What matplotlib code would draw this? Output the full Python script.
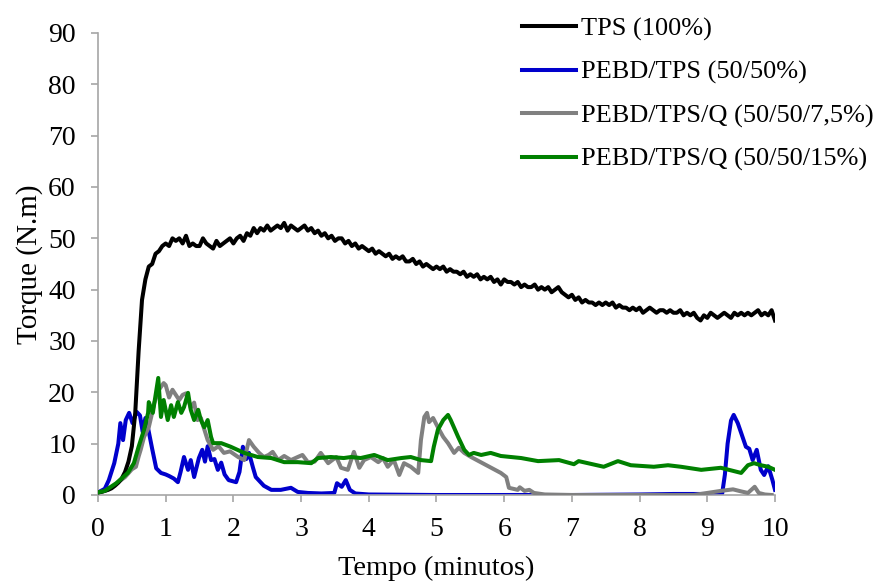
import matplotlib

matplotlib.use("Agg")
import matplotlib.pyplot as plt
import numpy as np

# ---- data ----
tps_t = np.round(np.arange(0, 10.001, 0.05), 2)
tps_v = [
    0.5, 0.6, 0.8, 1.0, 1.3, 1.8, 2.4, 3.2, 4.5, 6.5,
    9.5, 16, 28, 38, 42, 44.5, 45, 47, 47.5, 48.5,
    49, 48.5, 50, 49.5, 50, 49, 50.5, 48.5, 49, 48.5,
    48.5, 50, 49, 48.5, 48, 49.5, 48.5, 49, 49.5, 50,
    49, 50, 50.5, 49.5, 51, 50.5, 52, 51, 52, 51.5,
    52.5, 51.5, 52, 52.5, 52, 53, 51.5, 52.5, 52, 51.5,
    52, 52.5, 51.5, 52, 51, 51.5, 50.5, 51, 50, 50.5,
    49.5, 50, 50, 49, 49.5, 48.5, 49, 48, 48.5, 48,
    47.5, 48, 47, 47.5, 47, 46.5, 47, 46, 46.5, 46,
    46.5, 45.5, 45.5, 46, 45, 45.5, 44.5, 45, 44.5, 44,
    44.5, 44, 44.5, 43.5, 44, 43.5, 43.5, 43, 43.5, 42.5,
    43, 42.5, 43, 42, 42.5, 42, 42.5, 41.5, 42, 41,
    42, 41.5, 41.5, 41, 41.5, 40.5, 41, 40.5, 40.5, 41,
    40, 40.5, 40, 40.5, 39.5, 40, 40.5, 39.5, 39, 38.5,
    39, 38, 38.5, 37.5, 38, 37.5, 37.5, 37, 37.5, 37,
    37.5, 37, 37.5, 36.5, 37, 36.5, 36.5, 36, 36.5, 36,
    36.5, 35.5, 36, 36.5, 36, 35.5, 36, 36, 35.5, 36,
    35.5, 35.5, 36, 35, 35.5, 35, 35.5, 34.5, 34, 35,
    34.5, 35.5, 35, 34.5, 35, 35.5, 35, 34.5, 35.5, 35,
    35.5, 35, 35.5, 35, 35.5, 36, 35, 35.5, 35, 36,
    34,
]

blend_t = [
    0, 0.1, 0.16, 0.24, 0.3, 0.33, 0.37, 0.41, 0.46, 0.51, 0.57, 0.62, 0.66,
    0.7, 0.74, 0.8, 0.86, 0.93, 1.0, 1.05, 1.12, 1.18, 1.22, 1.27, 1.33, 1.37,
    1.42, 1.49, 1.54, 1.58, 1.62, 1.67, 1.72, 1.77, 1.82, 1.87, 1.93, 2.04,
    2.09, 2.14, 2.19, 2.23, 2.29, 2.33, 2.45, 2.56, 2.7, 2.85, 2.95, 3.1, 3.3,
    3.49, 3.53, 3.6, 3.66, 3.72, 3.8, 4.0, 5.0, 6.0, 7.0, 8.0, 8.5, 9.0, 9.22,
    9.26, 9.3, 9.35, 9.39, 9.45, 9.5, 9.57, 9.62, 9.67, 9.73, 9.79, 9.84, 9.9,
    9.96, 10.0,
]
blend_v = [
    0.5, 1.2, 2.9, 6.2, 10, 14, 10.7, 14.6, 16, 14, 16.2, 15.5, 12.3,
    15, 13, 9, 5.2, 4.3, 4, 3.7, 3.2, 2.5, 4.5, 7.4, 4.9, 6.8,
    3.5, 7.2, 8.8, 6.5, 9.5, 6.8, 7, 4.9, 6.3, 4, 2.9, 2.5,
    4.5, 9.4, 7, 8.2, 5.3, 3.5, 1.8, 1.0, 1.0, 1.4, 0.6, 0.4, 0.3,
    0.4, 2.3, 1.6, 2.9, 1.0, 0.3, 0.1, 0.0, 0.0, 0.0, 0.1, 0.2, 0.2, 0.3,
    4, 10, 14.5, 15.6, 14, 12.1, 9.4, 9.0, 6.8, 8.8, 4.9, 3.9, 5.6,
    3, 1.0,
]

q75_t = [
    0, 0.1, 0.2, 0.3, 0.4, 0.5, 0.56, 0.6, 0.63, 0.68, 0.75, 0.8, 0.83, 0.9,
    0.97, 1.0, 1.05, 1.1, 1.15, 1.2, 1.25, 1.3, 1.37, 1.42, 1.47, 1.52, 1.56,
    1.62, 1.7, 1.78, 1.86, 1.95, 2.07, 2.16, 2.23, 2.3, 2.38, 2.45, 2.52,
    2.58, 2.66, 2.75, 2.85, 2.95, 3.02, 3.1, 3.2, 3.29, 3.4, 3.52, 3.59,
    3.69, 3.78, 3.86, 3.93, 4.03, 4.14, 4.21, 4.28, 4.37, 4.45, 4.52, 4.62,
    4.73, 4.77, 4.82, 4.86, 4.89, 4.95, 5.02, 5.1, 5.17, 5.26, 5.33, 5.41,
    5.51, 5.95, 6.03, 6.07, 6.2, 6.23, 6.3, 6.37, 6.44, 6.6, 7.0, 8.0, 8.8,
    9.0, 9.2, 9.38, 9.5, 9.6, 9.7, 9.76, 9.85, 9.95,
]
q75_v = [
    0.5, 0.8, 1.5, 2.5, 3.5, 5, 5.5, 7.5, 8.8, 11.3, 13.2, 16, 17.9, 20.5,
    21.8, 21.4, 19, 20.5, 19.5, 18.5, 19.5, 19.8, 17, 18, 14.6, 15, 13.2,
    10.7, 8.8, 9.5, 8.2, 8.5, 7.4, 6.8, 10.7, 9.4, 8.2, 7.4, 7.8,
    8.4, 6.8, 7.6, 6.8, 7.4, 7.8, 6.4, 6.5, 8.2, 6.2, 7.4, 5.3,
    4.9, 8.4, 5.3, 6.8, 7.4, 6.4, 7.2, 5.5, 6.8, 3.9, 6.2, 5.5,
    4.3, 10.7, 15.2, 16, 14.2, 15, 13.2, 11.3, 10.1, 8.2, 9.2, 8.2,
    7.4, 4.3, 3.5, 1.4, 1.0, 1.5, 0.8, 1.0, 0.4, 0.1, 0.0, 0.0, 0.0,
    0.4, 0.8, 1.1, 0.7, 0.4, 1.6, 0.4, 0.1, 0.0,
]

q15_t = [
    0, 0.1, 0.27, 0.44, 0.53, 0.6, 0.68, 0.74, 0.75, 0.81, 0.89, 0.93, 0.97,
    1.03, 1.08, 1.12, 1.18, 1.23, 1.27, 1.33, 1.37, 1.42, 1.48, 1.52, 1.57,
    1.62, 1.67, 1.7, 1.82, 1.96, 2.16, 2.36, 2.56, 2.75, 2.95, 3.15, 3.25,
    3.44, 3.63, 3.74, 3.88, 4.08, 4.28, 4.48, 4.62, 4.77, 4.92, 4.96, 5.02,
    5.1, 5.17, 5.21, 5.32, 5.41, 5.48, 5.55, 5.66, 5.8, 5.95, 6.25, 6.5,
    6.81, 7.03, 7.1, 7.47, 7.68, 7.87, 8.21, 8.42, 8.61, 8.91, 9.2, 9.5,
    9.6, 9.69, 9.79, 9.9, 10.0,
]
q15_v = [
    0.5, 0.8, 2.3, 4.3, 6.2, 9.4, 12.7, 16, 18.1, 16, 22.8, 15.2, 18.5,
    14.6, 17.5, 15.2, 18.1, 16, 17.1, 19.9, 16.6, 14.6, 16.6, 14.6, 13.2,
    14.6, 11.3, 10.1, 10.1, 9.4, 8.2, 7.4, 7.2, 6.4, 6.4, 6.2, 7.2,
    7.4, 7.2, 7.4, 7.2, 7.8, 6.8, 7.2, 7.4, 6.8, 6.6, 9.4, 12.7,
    14.6, 15.6, 14.6, 11.3, 8.8, 7.8, 8.2, 7.8, 8.2, 7.6, 7.2, 6.6,
    6.8, 6.0, 6.6, 5.5, 6.6, 5.8, 5.5, 5.8, 5.5, 4.9, 5.3, 4.3,
    5.8, 6.2, 5.8, 5.5, 4.9,
]

labels = [
    "TPS (100%)",
    "PEBD/TPS (50/50%)",
    "PEBD/TPS/Q (50/50/7,5%)",
    "PEBD/TPS/Q (50/50/15%)",
]

plt.rcParams["font.family"] = ["Liberation Serif", "DejaVu Serif"]

fig = plt.figure(figsize=(8.78, 5.83), dpi=100)
ax = fig.add_axes([98 / 878, 88 / 583, 677 / 878, 462 / 583])

lw = 2.9
l_blend, = ax.plot(blend_t, blend_v, color="#0000CC", lw=lw, zorder=2)
l_q75, = ax.plot(q75_t, q75_v, color="#808080", lw=lw, zorder=3)
l_tps, = ax.plot(tps_t, tps_v, color="black", lw=lw, zorder=4)
l_q15, = ax.plot(q15_t, q15_v, color="#008000", lw=lw, zorder=5)

ax.set_xlim(0, 10)
ax.set_ylim(0, 90)
ax.set_xticks(range(0, 11))
ax.set_yticks(range(0, 91, 10))

for side in ("top", "right"):
    ax.spines[side].set_visible(False)
for side in ("left", "bottom"):
    ax.spines[side].set_color("#A6A6A6")
    ax.spines[side].set_linewidth(1.2)
ax.tick_params(direction="out", length=5, width=1.2, color="#A6A6A6",
               labelsize=20)
ax.tick_params(axis="x", pad=11)
ax.tick_params(axis="y", pad=11)

ax.set_xlabel("Tempo (minutos)", fontsize=20.5, labelpad=9.5)
ax.set_ylabel("Torque (N.m)", fontsize=21, labelpad=4)

ax.legend(
    [l_tps, l_blend, l_q75, l_q15], labels,
    loc="upper left", bbox_to_anchor=(522 / 878, 1 - 17 / 583),
    bbox_transform=fig.transFigure, frameon=False, fontsize=19,
    borderpad=0, borderaxespad=0, handlelength=2.05, handletextpad=0.18,
    labelspacing=0.74,
)

fig.savefig("out.png", dpi=100)
plt.close(fig)
